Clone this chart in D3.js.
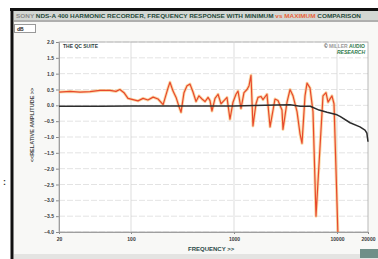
<!DOCTYPE html>
<html>
<head>
<meta charset="utf-8">
<script src="https://cdnjs.cloudflare.com/ajax/libs/d3/7.8.5/d3.min.js"></script>
<style>
  body { margin: 0; background: #fff; }
  svg { display: block; font-family: "Liberation Sans", Arial, sans-serif; }
</style>
</head>
<body>
<div id="chart"></div>
<script>
// "maximum" trace (red) - frequency (Hz) and relative amplitude
var redFreq = [20, 25.6, 32, 40, 50, 62.5, 71.5, 78, 85.5, 93.5, 104.6, 117, 131, 146, 164, 183, 205, 229, 239, 256, 274, 293, 306, 327, 350, 374, 400, 428, 457, 489, 523, 560, 585, 611, 654, 700, 748, 800, 855, 914, 978, 1046, 1094, 1170, 1250, 1338, 1400, 1462, 1528, 1636, 1710, 1830, 1912, 2090, 2240, 2500, 2674, 2924, 2990, 3272, 3500, 3740, 4092, 4376, 4576, 4892, 5116, 5470, 5848, 6254, 7312, 7820, 8180, 8934, 9354, 10200];
var redAmp = [0.42, 0.44, 0.42, 0.43, 0.47, 0.47, 0.44, 0.50, 0.40, 0.22, 0.18, 0.14, 0.22, 0.17, 0.26, 0.20, 0.02, 0.55, 0.73, 0.45, 0.25, -0.05, -0.22, 0.40, 0.62, 0.67, 0.42, 0.12, 0.30, 0.20, 0.12, 0.25, 0.15, -0.18, 0.22, 0.35, 0.05, 0.15, 0.25, -0.44, 0.10, 0.35, 0.45, -0.10, 0.40, 0.50, 0.62, 0.95, -0.65, 0.05, 0.25, 0.28, 0.18, 0.35, -0.68, 0.20, 0.15, -0.15, -0.76, 0.10, 0.50, 0.30, -0.20, -0.90, -1.20, 0.30, 0.70, 0.55, -0.20, -3.50, 0.30, 0.40, 0.10, 0.30, 0.05, -4.0];

// "minimum" trace (black)
var blackFreq = [20, 50, 100, 200, 500, 1000, 2000, 3500, 4400, 5500, 6700, 8000, 10000, 10700, 13400, 16700, 18700, 19500, 20000];
var blackAmp = [-0.03, -0.03, -0.02, -0.02, -0.02, -0.02, 0.0, 0.02, -0.03, -0.03, -0.15, -0.22, -0.30, -0.35, -0.55, -0.68, -0.78, -0.88, -1.15];

var yTicks = [2.0, 1.5, 1.0, 0.5, 0.0, -0.5, -1.0, -1.5, -2.0, -2.5, -3.0, -3.5, -4.0];
var xTicks = [20, 100, 1000, 10000, 20000];

var W = 378, H = 259;
var margin = { top: 42, right: 10, bottom: 27, left: 59 },
    width = W - margin.left - margin.right,
    height = H - margin.top - margin.bottom;

var svg = d3.select("#chart").append("svg")
    .attr("width", W)
    .attr("height", H);

// window frame
svg.append("rect").attr("x", 12).attr("y", 9).attr("width", W - 12).attr("height", H - 9).attr("fill", "#f8f8f6");
svg.append("rect").attr("x", 14).attr("y", 254).attr("width", W - 14).attr("height", 5).attr("fill", "#e4e4e2");
svg.append("rect").attr("x", 14).attr("y", 11).attr("width", W - 14).attr("height", 9).attr("fill", "#d3d7d3");
svg.append("line").attr("x1", 14).attr("x2", W).attr("y1", 21).attr("y2", 21).attr("stroke", "#666").attr("stroke-width", 1);
svg.append("line").attr("x1", 10).attr("x2", W).attr("y1", 9.5).attr("y2", 9.5).attr("stroke", "#111").attr("stroke-width", 3);
svg.append("line").attr("x1", 12).attr("x2", 12).attr("y1", 8).attr("y2", H).attr("stroke", "#111").attr("stroke-width", 3);

// title strip
var title = svg.append("text")
    .attr("x", 16).attr("y", 18)
    .attr("textLength", 345).attr("lengthAdjust", "spacingAndGlyphs")
    .style("font-size", "6px").style("font-weight", "bold");
title.append("tspan").attr("fill", "#8a8a8a").text("SONY ");
title.append("tspan").attr("fill", "#1f4a3a").text("NDS-A 400 HARMONIC RECORDER, FREQUENCY RESPONSE WITH MINIMUM ");
title.append("tspan").attr("fill", "#e8643a").text("vs MAXIMUM ");
title.append("tspan").attr("fill", "#1f4a3a").text("COMPARISON");

// dB tab
svg.append("rect").attr("x", 14.5).attr("y", 24.5).attr("width", 21).attr("height", 8)
    .attr("fill", "#fff").attr("stroke", "#999");
svg.append("text").attr("x", 17).attr("y", 30.5).text("dB")
    .style("font-size", "5px").style("font-weight", "bold").attr("fill", "#222");

svg.append("text").attr("x", 3).attr("y", 185).text(":")
    .style("font-size", "9px").style("font-weight", "bold").attr("fill", "#333");

// bottom right button
svg.append("rect").attr("x", 360).attr("y", 249).attr("width", 18).attr("height", 9).attr("fill", "#6f8f88");

var g = svg.append("g")
    .attr("transform", "translate(" + margin.left + "," + margin.top + ")");

// scales
var x = d3.scaleLog().domain([20, 20000]).range([0, width]);
var y = d3.scaleLinear().domain([-4, 2]).range([height, 0]);

g.append("rect").attr("width", width).attr("height", height).attr("fill", "#fff");

// grid
g.append("g")
    .selectAll("line")
    .data(yTicks)
    .enter().append("line")
    .attr("x1", 0).attr("x2", width)
    .attr("y1", function (d) { return y(d); })
    .attr("y2", function (d) { return y(d); })
    .attr("stroke", "#dcdcdc").attr("stroke-width", 0.8)
    .attr("stroke-dasharray", "6,2");

g.append("g")
    .selectAll("line")
    .data([100, 1000, 10000])
    .enter().append("line")
    .attr("x1", function (d) { return x(d); })
    .attr("x2", function (d) { return x(d); })
    .attr("y1", 0).attr("y2", height)
    .attr("stroke", "#d4d4d4").attr("stroke-width", 0.8);

// axes
var yAxis = g.append("g")
    .call(d3.axisLeft(y).tickValues(yTicks).tickFormat(d3.format(".1f")).tickSize(3).tickPadding(2));
var xAxis = g.append("g")
    .attr("transform", "translate(0," + height + ")")
    .call(d3.axisBottom(x).tickValues(xTicks).tickFormat(d3.format("d")).tickSize(2).tickPadding(3));

[yAxis, xAxis].forEach(function (a) {
    a.selectAll("path").attr("stroke", "#999");
    a.selectAll("line").attr("stroke", "#888");
    a.selectAll("text").attr("fill", "#3a3a3a")
        .style("font-size", "5px").style("font-weight", "bold")
        .style("font-family", "Liberation Sans, Arial, sans-serif");
});

// plot border
g.append("rect").attr("width", width).attr("height", height)
    .attr("fill", "none").attr("stroke", "#a8a8a8").attr("stroke-width", 0.8);

// traces
var line = d3.line()
    .x(function (d) { return x(d[0]); })
    .y(function (d) { return y(d[1]); });

var redData = d3.zip(redFreq, redAmp);
var blackData = d3.zip(blackFreq, blackAmp);

g.append("path").datum(redData)
    .attr("d", line).attr("fill", "none")
    .attr("stroke", "#f6c070").attr("stroke-width", 3).attr("stroke-opacity", 0.6)
    .attr("stroke-linejoin", "round");
g.append("path").datum(redData)
    .attr("d", line).attr("fill", "none")
    .attr("stroke", "#e8492c").attr("stroke-width", 1.2)
    .attr("stroke-linejoin", "round");
g.append("path").datum(blackData)
    .attr("d", line).attr("fill", "none")
    .attr("stroke", "#2c2c2c").attr("stroke-width", 1.5)
    .attr("stroke-linejoin", "round");

// in-plot labels
g.append("text").attr("x", 4).attr("y", 6).text("THE QC SUITE")
    .style("font-size", "5px").style("font-weight", "bold").attr("fill", "#2f3f3f");

var logo = g.append("text").attr("x", width - 3).attr("y", 6).attr("text-anchor", "end")
    .style("font-size", "5px").style("font-weight", "bold");
logo.append("tspan").attr("fill", "#333").text("\u00a9 ");
logo.append("tspan").attr("fill", "#9a9a9a").text("MILLER ");
logo.append("tspan").attr("fill", "#2f7a4c").text("AUDIO");
g.append("text").attr("x", width - 3).attr("y", 12).attr("text-anchor", "end").text("RESEARCH")
    .style("font-size", "5px").style("font-weight", "bold").style("font-style", "italic")
    .attr("fill", "#2f7a4c");

// axis titles
svg.append("text")
    .attr("transform", "translate(34,125) rotate(-90)")
    .attr("text-anchor", "middle")
    .text("<<RELATIVE AMPLITUDE >>")
    .style("font-size", "5.5px").style("font-weight", "bold").attr("fill", "#555");

svg.append("text")
    .attr("x", 188).attr("y", 251)
    .text("FREQUENCY >>")
    .style("font-size", "6px").style("font-weight", "bold").attr("fill", "#2b4a48");
</script>
</body>
</html>
